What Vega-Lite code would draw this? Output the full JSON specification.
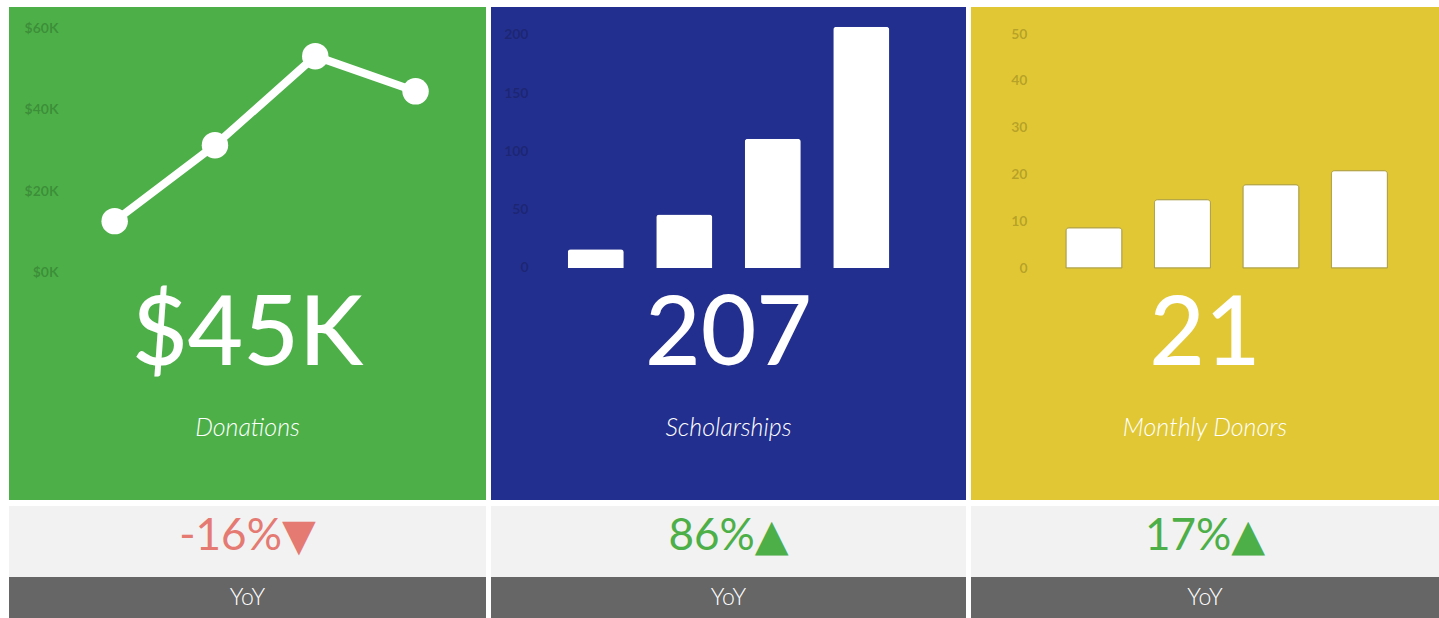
{
  "$schema": "https://vega.github.io/schema/vega-lite/v6.json",
  "background": "white",
  "padding": {"left": 9, "top": 7, "right": 0, "bottom": 0},
  "config": {
    "view": {"stroke": null},
    "axis": {"grid": false, "domain": false, "ticks": false, "title": null, "labelFont": "Lato", "labelFontSize": 14, "labelFontWeight": "bold", "labelColor": "rgba(0,0,0,0.2)", "labelPadding": 2},
    "text": {"font": "Lato, DejaVu Sans"}
  },
  "datasets": {
    "donations": [
      {"period": "2015", "amount": 12700},
      {"period": "2016", "amount": 31300},
      {"period": "2017", "amount": 53100},
      {"period": "2018", "amount": 44500}
    ],
    "scholarships": [
      {"period": "2015", "count": 16},
      {"period": "2016", "count": 46},
      {"period": "2017", "count": 111},
      {"period": "2018", "count": 207}
    ],
    "donors": [
      {"period": "2015", "count": 8.6},
      {"period": "2016", "count": 14.6},
      {"period": "2017", "count": 17.8},
      {"period": "2018", "count": 20.8}
    ],
    "kpi": [
      {"metric": "Donations", "value": "$45K", "change": "-16%▼", "direction": "down", "basis": "YoY"},
      {"metric": "Scholarships", "value": "207", "change": "86%▲", "direction": "up", "basis": "YoY"},
      {"metric": "Monthly Donors", "value": "21", "change": "17%▲", "direction": "up", "basis": "YoY"}
    ]
  },
  "hconcat": [
    {
      "spacing": 6,
      "vconcat": [
        {
          "spacing": 0,
          "bounds": "flush",
          "vconcat": [
            {
              "width": 477, "height": 278,
              "view": {"fill": "#4caf47", "stroke": null},
              "data": {"name": "donations"},
              "encoding": {
                "x": {"field": "period", "type": "ordinal", "axis": null, "scale": {"type": "point", "padding": 0.878, "align": 0.6}},
                "y": {"field": "amount", "type": "quantitative", "scale": {"domain": [-2939, 65143], "nice": false, "zero": false}, "axis": {"values": [0, 20000, 40000, 60000], "labelExpr": "'$' + (datum.value / 1000) + 'K'", "offset": -51}}
              },
              "layer": [
                {"mark": {"type": "line", "color": "white", "strokeWidth": 8}},
                {"mark": {"type": "circle", "color": "white", "opacity": 1, "size": 700}}
              ]
            },
            {
              "width": 477, "height": 102,
              "view": {"fill": "#4caf47", "stroke": null},
              "data": {"name": "kpi"},
              "transform": [{"filter": "datum.metric == 'Donations'"}],
              "mark": {"type": "text", "fontSize": 96, "fontWeight": 500, "color": "white", "baseline": "middle", "dy": 0},
              "encoding": {"text": {"field": "value"}}
            },
            {
              "width": 477, "height": 113,
              "view": {"fill": "#4caf47", "stroke": null},
              "data": {"name": "kpi"},
              "transform": [{"filter": "datum.metric == 'Donations'"}],
              "mark": {"type": "text", "fontSize": 25, "fontStyle": "italic", "fontWeight": 300, "color": "white", "baseline": "middle", "dy": -16},
              "encoding": {"text": {"field": "metric"}}
            }
          ]
        },
        {
          "spacing": 0,
          "bounds": "flush",
          "vconcat": [
            {
              "width": 477, "height": 71,
              "view": {"fill": "#f2f2f2", "stroke": null},
              "data": {"name": "kpi"},
              "transform": [{"filter": "datum.metric == 'Donations'"}],
              "mark": {"type": "text", "fontSize": 44, "baseline": "middle", "dy": -5},
              "encoding": {
                "text": {"field": "change"},
                "color": {"field": "direction", "type": "nominal", "legend": null, "scale": {"domain": ["down", "up"], "range": ["#e57a72", "#4caf47"]}}
              }
            },
            {
              "width": 477, "height": 41,
              "view": {"fill": "#666666", "stroke": null},
              "data": {"name": "kpi"},
              "transform": [{"filter": "datum.metric == 'Donations'"}],
              "mark": {"type": "text", "fontSize": 23, "fontWeight": 300, "color": "white", "baseline": "middle"},
              "encoding": {"text": {"field": "basis"}}
            }
          ]
        }
      ]
    },
    {
      "spacing": 6,
      "vconcat": [
        {
          "spacing": 0,
          "bounds": "flush",
          "vconcat": [
            {
              "width": 475, "height": 273,
              "view": {"fill": "#232f8e", "stroke": null},
              "data": {"name": "scholarships"},
              "mark": {"type": "bar", "color": "white", "cornerRadiusTopLeft": 3, "cornerRadiusTopRight": 3},
              "encoding": {
                "x": {"field": "period", "type": "ordinal", "axis": null, "scale": {"type": "band", "paddingInner": 0.367, "paddingOuter": 0.867}},
                "y": {"field": "count", "type": "quantitative", "scale": {"domain": [-10.3, 224], "nice": false, "zero": false}, "axis": {"values": [0, 50, 100, 150, 200], "offset": -39}}
              }
            },
            {
              "width": 475, "height": 112,
              "view": {"fill": "#232f8e", "stroke": null},
              "data": {"name": "kpi"},
              "transform": [{"filter": "datum.metric == 'Scholarships'"}],
              "mark": {"type": "text", "fontSize": 96, "fontWeight": 500, "color": "white", "baseline": "middle", "dy": 0},
              "encoding": {"text": {"field": "value"}}
            },
            {
              "width": 475, "height": 108,
              "view": {"fill": "#232f8e", "stroke": null},
              "data": {"name": "kpi"},
              "transform": [{"filter": "datum.metric == 'Scholarships'"}],
              "mark": {"type": "text", "fontSize": 25, "fontStyle": "italic", "fontWeight": 300, "color": "white", "baseline": "middle", "dy": -18},
              "encoding": {"text": {"field": "metric"}}
            }
          ]
        },
        {
          "spacing": 0,
          "bounds": "flush",
          "vconcat": [
            {
              "width": 475, "height": 71,
              "view": {"fill": "#f2f2f2", "stroke": null},
              "data": {"name": "kpi"},
              "transform": [{"filter": "datum.metric == 'Scholarships'"}],
              "mark": {"type": "text", "fontSize": 44, "baseline": "middle", "dy": -5},
              "encoding": {
                "text": {"field": "change"},
                "color": {"field": "direction", "type": "nominal", "legend": null, "scale": {"domain": ["down", "up"], "range": ["#e57a72", "#4caf47"]}}
              }
            },
            {
              "width": 475, "height": 41,
              "view": {"fill": "#666666", "stroke": null},
              "data": {"name": "kpi"},
              "transform": [{"filter": "datum.metric == 'Scholarships'"}],
              "mark": {"type": "text", "fontSize": 23, "fontWeight": 300, "color": "white", "baseline": "middle"},
              "encoding": {"text": {"field": "basis"}}
            }
          ]
        }
      ]
    },
    {
      "spacing": 6,
      "vconcat": [
        {
          "spacing": 0,
          "bounds": "flush",
          "vconcat": [
            {
              "width": 468, "height": 273,
              "view": {"fill": "#e0c733", "stroke": null},
              "data": {"name": "donors"},
              "mark": {"type": "bar", "color": "white", "stroke": "#b0a24a", "strokeWidth": 1, "cornerRadiusTopLeft": 3, "cornerRadiusTopRight": 3},
              "encoding": {
                "x": {"field": "period", "type": "ordinal", "axis": null, "scale": {"type": "band", "paddingInner": 0.367, "paddingOuter": 0.828, "align": 0.648}},
                "y": {"field": "count", "type": "quantitative", "scale": {"domain": [-2.56, 55.77], "nice": false, "zero": false}, "axis": {"values": [0, 10, 20, 30, 40, 50], "offset": -58}}
              }
            },
            {
              "width": 468, "height": 112,
              "view": {"fill": "#e0c733", "stroke": null},
              "data": {"name": "kpi"},
              "transform": [{"filter": "datum.metric == 'Monthly Donors'"}],
              "mark": {"type": "text", "fontSize": 96, "fontWeight": 500, "color": "white", "baseline": "middle", "dy": 0},
              "encoding": {"text": {"field": "value"}}
            },
            {
              "width": 468, "height": 108,
              "view": {"fill": "#e0c733", "stroke": null},
              "data": {"name": "kpi"},
              "transform": [{"filter": "datum.metric == 'Monthly Donors'"}],
              "mark": {"type": "text", "fontSize": 25, "fontStyle": "italic", "fontWeight": 300, "color": "white", "baseline": "middle", "dy": -18},
              "encoding": {"text": {"field": "metric"}}
            }
          ]
        },
        {
          "spacing": 0,
          "bounds": "flush",
          "vconcat": [
            {
              "width": 468, "height": 71,
              "view": {"fill": "#f2f2f2", "stroke": null},
              "data": {"name": "kpi"},
              "transform": [{"filter": "datum.metric == 'Monthly Donors'"}],
              "mark": {"type": "text", "fontSize": 44, "baseline": "middle", "dy": -5},
              "encoding": {
                "text": {"field": "change"},
                "color": {"field": "direction", "type": "nominal", "legend": null, "scale": {"domain": ["down", "up"], "range": ["#e57a72", "#4caf47"]}}
              }
            },
            {
              "width": 468, "height": 41,
              "view": {"fill": "#666666", "stroke": null},
              "data": {"name": "kpi"},
              "transform": [{"filter": "datum.metric == 'Monthly Donors'"}],
              "mark": {"type": "text", "fontSize": 23, "fontWeight": 300, "color": "white", "baseline": "middle"},
              "encoding": {"text": {"field": "basis"}}
            }
          ]
        }
      ]
    }
  ],
  "spacing": 5,
  "resolve": {"scale": {"color": "independent", "x": "independent", "y": "independent"}}
}
